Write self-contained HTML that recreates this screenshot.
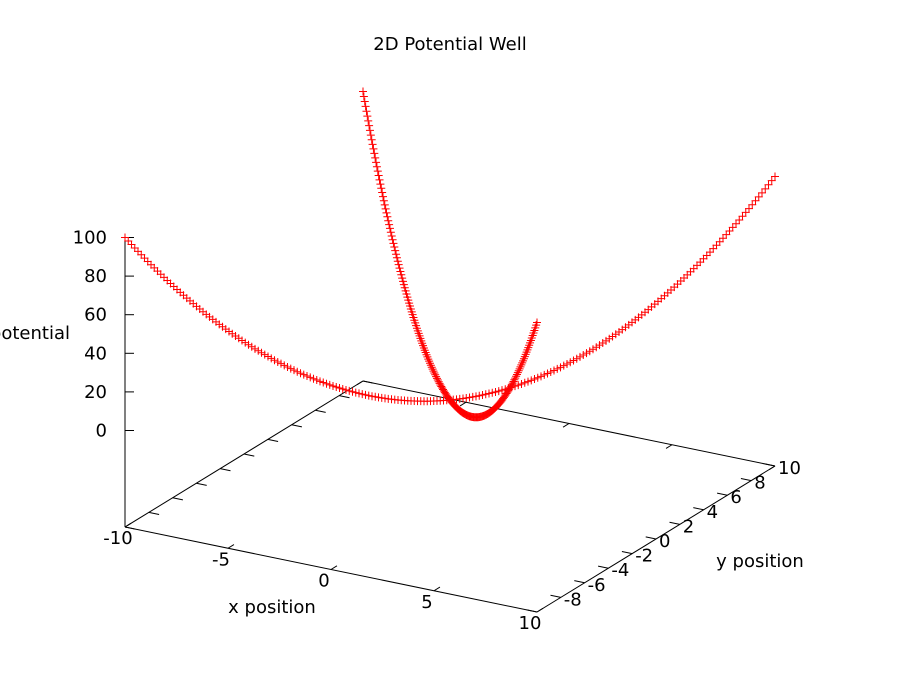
<!DOCTYPE html>
<html>
<head>
<meta charset="utf-8">
<style>
  html, body { margin: 0; padding: 0; background: #fff; }
  svg { display: block; }
  text { font-family: "DejaVu Sans", "Liberation Sans", sans-serif; font-size: 18px; fill: #000; }
</style>
</head>
<body>
<svg id="chart" width="900" height="700" viewBox="0 0 900 700">
  <rect x="0" y="0" width="900" height="700" fill="#fff"/>
  <text x="450" y="50" text-anchor="middle">2D Potential Well</text>
  <g id="frame"></g>
  <g id="ticks"></g>
  <g id="labels"></g>
  <g id="series"></g>
  <text x="272" y="613" text-anchor="middle">x position</text>
  <text x="760" y="567" text-anchor="middle">y position</text>
  <text x="70" y="339" text-anchor="end">potential</text>
</svg>
<script>
// ---- data ----
const xTicks = [-10, -5, 0, 5, 10];
const yTicks = [-8, -6, -4, -2, 0, 2, 4, 6, 8, 10];
const zTicks = [0, 20, 40, 60, 80, 100];
const paramT = [];
for (let i = 0; i <= 200; i++) paramT.push(Math.round((-10 + i * 0.1) * 10) / 10);
const potentialValues = [100,98.01,96.04,94.09,92.16,90.25,88.36,86.49,84.64,82.81,81,79.21,77.44,75.69,73.96,72.25,70.56,68.89,67.24,65.61,64,62.41,60.84,59.29,57.76,56.25,54.76,53.29,51.84,50.41,49,47.61,46.24,44.89,43.56,42.25,40.96,39.69,38.44,37.21,36,34.81,33.64,32.49,31.36,30.25,29.16,28.09,27.04,26.01,25,24.01,23.04,22.09,21.16,20.25,19.36,18.49,17.64,16.81,16,15.21,14.44,13.69,12.96,12.25,11.56,10.89,10.24,9.61,9,8.41,7.84,7.29,6.76,6.25,5.76,5.29,4.84,4.41,4,3.61,3.24,2.89,2.56,2.25,1.96,1.69,1.44,1.21,1,0.81,0.64,0.49,0.36,0.25,0.16,0.09,0.04,0.01,0,0.01,0.04,0.09,0.16,0.25,0.36,0.49,0.64,0.81,1,1.21,1.44,1.69,1.96,2.25,2.56,2.89,3.24,3.61,4,4.41,4.84,5.29,5.76,6.25,6.76,7.29,7.84,8.41,9,9.61,10.24,10.89,11.56,12.25,12.96,13.69,14.44,15.21,16,16.81,17.64,18.49,19.36,20.25,21.16,22.09,23.04,24.01,25,26.01,27.04,28.09,29.16,30.25,31.36,32.49,33.64,34.81,36,37.21,38.44,39.69,40.96,42.25,43.56,44.89,46.24,47.61,49,50.41,51.84,53.29,54.76,56.25,57.76,59.29,60.84,62.41,64,65.61,67.24,68.89,70.56,72.25,73.96,75.69,77.44,79.21,81,82.81,84.64,86.49,88.36,90.25,92.16,94.09,96.04,98.01,100];

// ---- projection ----
const ORIGIN = [125, 527];
const XV = [412, 85];
const YV = [238, -146];
const ZSCALE = 1.93;
const ZBASE = -50;
function proj(x, y, z) {
  const fx = (x + 10) / 20, fy = (y + 10) / 20;
  return [ORIGIN[0] + XV[0] * fx + YV[0] * fy,
          ORIGIN[1] + XV[1] * fx + YV[1] * fy - (z - ZBASE) * ZSCALE];
}
const NS = 'http://www.w3.org/2000/svg';
function mk(tag, attrs, parent) {
  const e = document.createElementNS(NS, tag);
  for (const k in attrs) e.setAttribute(k, attrs[k]);
  parent.appendChild(e);
  return e;
}
function line(p, q, parent) {
  return mk('line', {x1: p[0], y1: p[1], x2: q[0], y2: q[1], stroke: '#000', 'stroke-width': 1}, parent);
}
const frame = document.getElementById('frame');
const ticks = document.getElementById('ticks');
const labels = document.getElementById('labels');
const series = document.getElementById('series');

// base frame
const c00 = proj(-10, -10, ZBASE), c10 = proj(10, -10, ZBASE), c11 = proj(10, 10, ZBASE), c01 = proj(-10, 10, ZBASE);
[[c00, c10, 'x-axis-front'], [c10, c11, 'y-axis-right'], [c11, c01, 'x-axis-back'], [c01, c00, 'y-axis-left']].forEach(s => {
  const l = line(s[0], s[1], frame);
  
  
});
// z axis
const zl = line(proj(-10, -10, ZBASE), proj(-10, -10, 100), frame);



// x ticks
xTicks.forEach(v => {
  const a = proj(v, -10, ZBASE), b = proj(v, -9.5, ZBASE);
  const t1 = line(a, b, ticks);
  
  
  const a2 = proj(v, 10, ZBASE), b2 = proj(v, 9.5, ZBASE);
  const t2 = line(a2, b2, ticks);
  
  
  const tx = mk('text', {x: a[0] - 7, y: a[1] + 17, 'text-anchor': 'middle'}, labels);
  tx.textContent = String(v);
  
  
});
// y ticks
[-10].concat(yTicks).forEach(v => {
  const a = proj(10, v, ZBASE), b = proj(9.5, v, ZBASE);
  const t1 = line(a, b, ticks);
  
  
  const a2 = proj(-10, v, ZBASE), b2 = proj(-9.5, v, ZBASE);
  const t2 = line(a2, b2, ticks);
  
  
});
yTicks.forEach(v => {
  const a = proj(10, v, ZBASE);
  const tx = mk('text', {x: a[0] + 3, y: a[1] + 8, 'text-anchor': 'start'}, labels);
  tx.textContent = String(v);
  
  
});
// z ticks
zTicks.forEach(v => {
  const a = proj(-10, -10, v);
  const t1 = line(a, [a[0] + 9, a[1]], ticks);
  
  
  const tx = mk('text', {x: a[0] - 18, y: a[1] + 6, 'text-anchor': 'end'}, labels);
  tx.textContent = String(v);
  
  
});

// series: crosses
function cross(p, parent, name) {
  const d = `M${p[0]-4},${p[1]}H${p[0]+4}M${p[0]},${p[1]-4}V${p[1]+4}`;
  const e = mk('path', {d: d, stroke: '#f00', 'stroke-width': 1, fill: 'none'}, parent);
  
  
}
const g1 = mk('g', {}, series);


paramT.forEach((t, i) => cross(proj(t, t, potentialValues[i]), g1, 'point-diagonal'));
const g2 = mk('g', {}, series);


paramT.forEach((t, i) => cross(proj(t, -t, potentialValues[i]), g2, 'point-antidiagonal'));
</script>
</body>
</html>
